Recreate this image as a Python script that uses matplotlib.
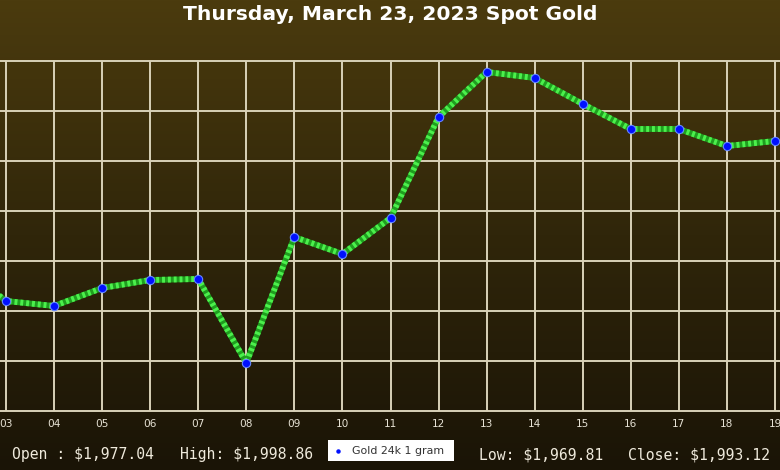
import numpy as np
import matplotlib.pyplot as plt
import matplotlib.colors as mcolors

# hourly spot price (USD / oz)
hours = [2, 3, 4, 5, 6, 7, 8, 9, 10, 11, 12, 13, 14, 15, 16, 17, 18, 19]
prices = [1979.8, 1976.0, 1975.5, 1977.3, 1978.1, 1978.2, 1969.8, 1982.4, 1980.7,
          1984.3, 1994.4, 1998.9, 1998.3, 1995.7, 1993.2, 1993.2, 1991.5, 1992.0]
tick_hours = list(range(3, 20))
tick_labels = [f'{h:02d}' for h in tick_hours]
title = 'Thursday, March 23, 2023 Spot Gold'
series_name = 'Gold 24k 1 gram'
summary = [('Open : $1,977.04', 12), ('High: $1,998.86', 180),
           ('Low: $1,969.81', 479), ('Close: $1,993.12', 628)]

W, H = 780, 470
fig = plt.figure(figsize=(W / 100, H / 100), dpi=100)

# background gradient, brown on top fading to near black
bg = fig.add_axes([0, 0, 1, 1], zorder=-10)
cmap = mcolors.LinearSegmentedColormap.from_list('bg', ['#1a1406', '#30260a', '#4b3b0e'])
bg.imshow(np.linspace(0, 1, 256).reshape(-1, 1), aspect='auto', cmap=cmap,
          origin='lower', extent=[0, 1, 0, 1])
bg.set_axis_off()

ax = fig.add_axes([0, 59 / H, 1, 350 / H])
ax.patch.set_alpha(0)
ax.set_xlim(3 - 6 / 48.06, 19 + 5 / 48.06)
ax.set_ylim(1965, 2000)
for s in ax.spines.values():
  s.set_visible(False)

grid_c = '#d9d2b8'
for h in tick_hours:
  ax.axvline(h, color=grid_c, lw=1.4, zorder=1)
for v in range(1965, 2001, 5):
  ax.axhline(v, color=grid_c, lw=1.4, zorder=1, clip_on=False)

ax.set_xticks(tick_hours)
ax.set_xticklabels(tick_labels, color='#e6e2d4', fontsize=7.6)
ax.tick_params(axis='x', length=0, pad=6)
ax.set_yticks([])

# textured green line: solid base + short perpendicular stripes
ax.plot(hours, prices, color='#1f9e1f', lw=4.2, zorder=3, solid_capstyle='butt')
ax.plot(hours, prices, color='#4cf04c', lw=4.2, zorder=4, dashes=(0.5, 0.5))
ax.plot(hours, prices, ls='none', marker='o', ms=6, mfc='#0010ff', mec='#6688ff',
        mew=0.8, zorder=5)

fig.text(0.5, 1 - 14 / H, title, ha='center', va='center', color='white',
         fontsize=14.6, fontweight='bold', family='DejaVu Sans')

for txt, x in summary:
  fig.text(x / W, 1 - 455 / H, txt, ha='left', va='center', color='#efeadc',
           fontsize=10.6, family='DejaVu Sans Mono')

# legend box
leg = plt.Rectangle((328 / W, 1 - 461 / H), 126 / W, 21 / H, transform=fig.transFigure,
                    facecolor='white', edgecolor='none')
fig.patches.append(leg)
fig.lines.append(plt.Line2D([338 / W], [1 - 451 / H], transform=fig.transFigure,
                            marker='o', ms=2.2, color='#0010ff', ls='none'))
fig.text(352 / W, 1 - 451 / H, series_name, ha='left', va='center', color='#333333',
         fontsize=7.9)

fig.savefig('out.png', dpi=100)
